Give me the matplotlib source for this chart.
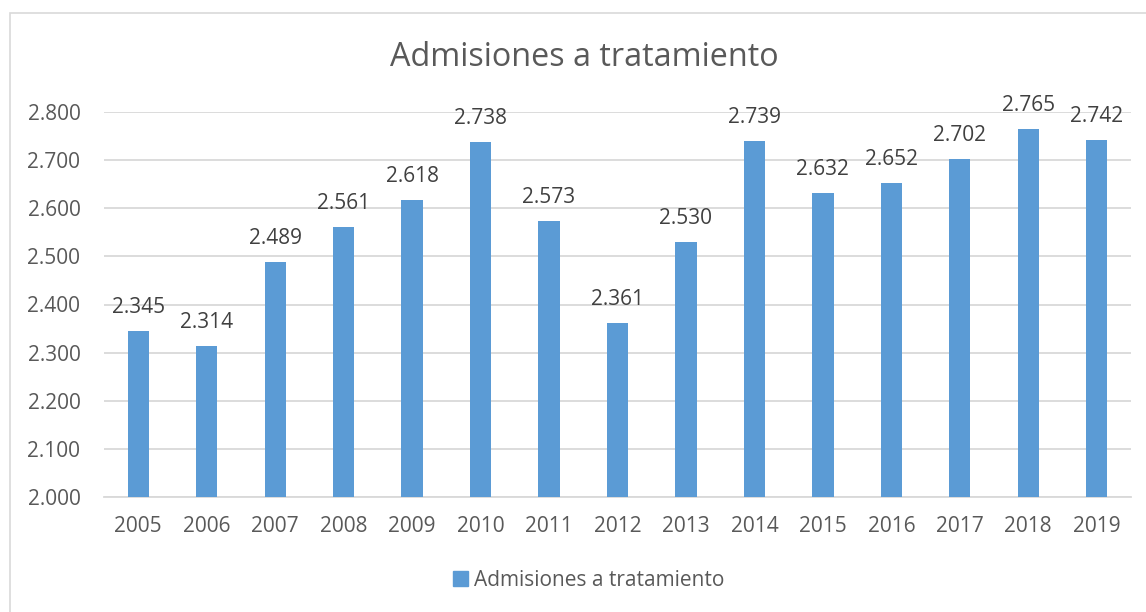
import matplotlib
matplotlib.use("Agg")
import matplotlib.pyplot as plt
from matplotlib.patches import Rectangle, Patch
from matplotlib.ticker import FuncFormatter

plt.rcParams['font.family'] = ['Open Sans', 'DejaVu Sans']

years = ["2005", "2006", "2007", "2008", "2009", "2010", "2011", "2012",
         "2013", "2014", "2015", "2016", "2017", "2018", "2019"]
admisiones = [2345, 2314, 2489, 2561, 2618, 2738, 2573, 2361,
              2530, 2739, 2632, 2652, 2702, 2765, 2742]
yticks = [2000, 2100, 2200, 2300, 2400, 2500, 2600, 2700, 2800]
title = "Admisiones a tratamiento"
serie = "Admisiones a tratamiento"

BAR = "#5B9BD5"
GRID = "#D9D9D9"
TXT = "#595959"
W, H = 1146, 612


def miles(v, pos=None):
    return f"{int(round(v)):,}".replace(",", ".")


fig = plt.figure(figsize=(W / 100, H / 100), dpi=100)
fig.patches.append(Rectangle((10 / W, -0.05), 1.1, 1 - 13 / H + 0.05,
                             transform=fig.transFigure, fill=False,
                             edgecolor=GRID, lw=1.2))

ax = fig.add_axes([104 / W, 1 - 497 / H, (1131 - 104) / W, (497 - 112) / H])
x = list(range(len(years)))
bars = ax.bar(x, admisiones, width=0.31, color=BAR, zorder=3)
ax.set_xlim(-0.5, len(years) - 0.5)
ax.set_ylim(yticks[0], yticks[-1])
ax.set_yticks(yticks)
ax.yaxis.set_major_formatter(FuncFormatter(miles))
ax.set_xticks(x)
ax.set_xticklabels(years)
ax.grid(axis='y', color=GRID, lw=1.3, zorder=0)
for s in ["top", "right", "left"]:
    ax.spines[s].set_visible(False)
ax.spines["bottom"].set_color(GRID)
ax.spines["bottom"].set_linewidth(1.3)
ax.tick_params(axis='both', length=0, labelsize=15, labelcolor=TXT)
ax.tick_params(axis='y', pad=17)
ax.tick_params(axis='x', pad=14)

for xi, v in zip(x, admisiones):
    ax.annotate(miles(v), (xi, v), xytext=(0, 13), textcoords="offset points",
                ha="center", va="baseline", fontsize=15, color="#404040",
                annotation_clip=False)

fig.text(584 / W, 1 - 57 / H, title, ha="center", va="center",
         fontsize=23.3, color=TXT)

fig.legend(handles=[Patch(color=BAR, label=serie)], loc="center",
           bbox_to_anchor=(589 / W, 1 - 580 / H), frameon=False,
           fontsize=15, labelcolor=TXT, handlelength=0.72,
           handleheight=0.72, handletextpad=0.3)

fig.savefig("out.png", dpi=100)
